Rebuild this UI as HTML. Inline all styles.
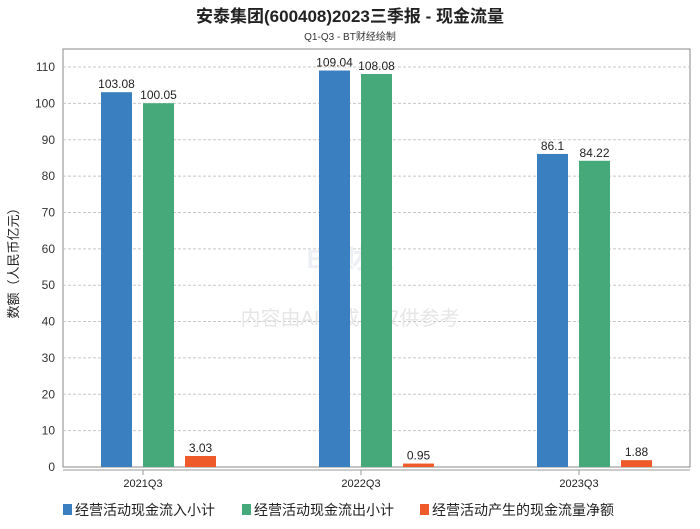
<!DOCTYPE html>
<html><head><meta charset="utf-8">
<style>
body{margin:0;background:#fff;font-family:"Liberation Sans","Noto Sans CJK SC",sans-serif;}
svg text{font-family:"Liberation Sans","Noto Sans CJK SC",sans-serif;}
</style></head>
<body>
<svg width="700" height="524" xmlns="http://www.w3.org/2000/svg">
<text x="350" y="22" text-anchor="middle" font-size="17" font-weight="bold" fill="#222">安泰集团(600408)2023三季报 - 现金流量</text>
<text x="350" y="40" text-anchor="middle" font-size="10" fill="#333">Q1-Q3 - BT财经绘制</text>
<rect x="63" y="49" width="627" height="418" fill="#fff" stroke="#888"/>
<g id="grid"></g>
<text x="350" y="268" text-anchor="middle" font-size="26" font-weight="bold" fill="#eceff3">BT财经</text>
<text x="350" y="325" text-anchor="middle" font-size="20" fill="#e6e6e6">内容由AI生成，仅供参考</text>
<g id="bars"></g>
<text x="18" y="260" text-anchor="middle" font-size="13" fill="#222" transform="rotate(-90 18 260)">数额（人民币亿元）</text>
<g id="legend" font-size="14" fill="#222">
<rect x="63" y="504" width="9" height="11" fill="#3a7fbf"/>
<text x="75" y="515">经营活动现金流入小计</text>
<rect x="242" y="504" width="9" height="11" fill="#45a97a"/>
<text x="254" y="515">经营活动现金流出小计</text>
<rect x="420" y="504" width="9" height="11" fill="#ee5a2a"/>
<text x="432" y="515">经营活动产生的现金流量净额</text>
</g>
</svg>
<script>
const categories=["2021Q3","2022Q3","2023Q3"];
const inflow=[103.08,109.04,86.1];
const outflow=[100.05,108.08,84.22];
const net=[3.03,0.95,1.88];
const yTicks=[0,10,20,30,40,50,60,70,80,90,100,110];
const NS="http://www.w3.org/2000/svg";
const y0=467,yPer=3.636;
function yScale(v){return y0-v*yPer;}
function xCenter(i){return 143+i*218;}
const grid=document.getElementById('grid');
yTicks.forEach(t=>{
 const y=yScale(t);
 if(t>0){const l=document.createElementNS(NS,'line');
 l.setAttribute('x1',63);l.setAttribute('x2',690);l.setAttribute('y1',y);l.setAttribute('y2',y);
 l.setAttribute('stroke','#c8c8c8');l.setAttribute('stroke-dasharray','3,2');
 
 
 grid.appendChild(l);}
 const tx=document.createElementNS(NS,'text');
 tx.setAttribute('x',55);tx.setAttribute('y',y+4);tx.setAttribute('text-anchor','end');tx.setAttribute('font-size','12');tx.setAttribute('fill','#333');
 tx.textContent=t;
 
 
 grid.appendChild(tx);
});
const ax=document.createElementNS(NS,'line');
ax.setAttribute('x1',63);ax.setAttribute('x2',690);ax.setAttribute('y1',470);ax.setAttribute('y2',470);ax.setAttribute('stroke','#999');


grid.appendChild(ax);
const bars=document.getElementById('bars');
const series=[[inflow,'#3a7fbf','inflow'],[outflow,'#45a97a','outflow'],[net,'#ee5a2a','net']];
categories.forEach((c,i)=>{
 const cx=xCenter(i);
 series.forEach((s,j)=>{
  const v=s[0][i];const x=cx-42+j*42;const y=yScale(v);
  const r=document.createElementNS(NS,'rect');
  r.setAttribute('x',x);r.setAttribute('y',y);r.setAttribute('width',31);r.setAttribute('height',y0-y);r.setAttribute('fill',s[1]);
  
  
  bars.appendChild(r);
  const t=document.createElementNS(NS,'text');
  t.setAttribute('x',x+15.5);t.setAttribute('y',y-4);t.setAttribute('text-anchor','middle');t.setAttribute('font-size','12');t.setAttribute('fill','#222');
  t.textContent=v;
  
  
  bars.appendChild(t);
 });
 const tk=document.createElementNS(NS,'line');
 tk.setAttribute('x1',cx);tk.setAttribute('x2',cx);tk.setAttribute('y1',470);tk.setAttribute('y2',475);tk.setAttribute('stroke','#999');
 
 
 bars.appendChild(tk);
 const l=document.createElementNS(NS,'text');
 l.setAttribute('x',cx);l.setAttribute('y',487);l.setAttribute('text-anchor','middle');l.setAttribute('font-size','11');l.setAttribute('fill','#222');
 l.textContent=c;
 
 
 bars.appendChild(l);
});
</script>
</body></html>
